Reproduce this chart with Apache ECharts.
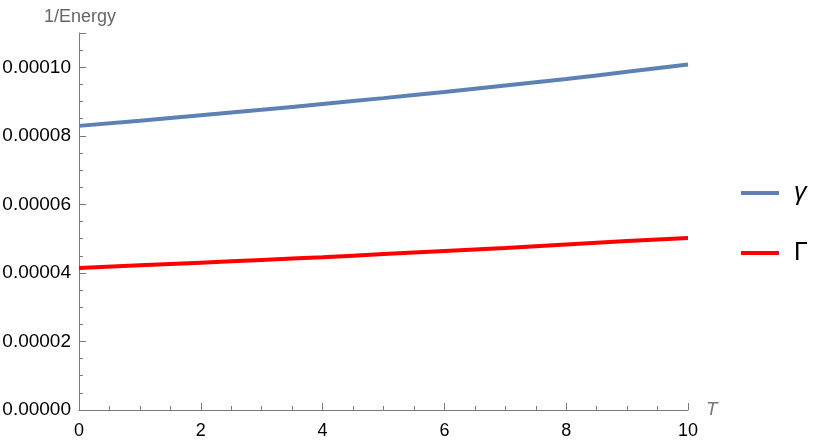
<!DOCTYPE html>
<html>
<head>
<meta charset="utf-8">
<script src="https://cdn.jsdelivr.net/npm/echarts@6/dist/echarts.min.js"></script>
<style>
html,body{margin:0;padding:0;background:#fff;}
#main{width:819px;height:442px;}
</style>
</head>
<body>
<div id="main"></div>
<script>
const T = [0, 1, 2, 3, 4, 5, 6, 7, 8, 9, 10];
const gammaSmall = [0.0000829, 0.0000844, 0.0000860, 0.0000876, 0.0000893, 0.0000910, 0.0000928, 0.0000947, 0.0000966, 0.0000987, 0.0001008];
const gammaCap = [0.0000414, 0.0000422, 0.0000430, 0.0000438, 0.0000446, 0.0000455, 0.0000464, 0.0000473, 0.0000483, 0.0000493, 0.0000502];
const seriesNames = ['γ', 'Γ'];
const yTicks = [0, 0.00002, 0.00004, 0.00006, 0.00008, 0.00010];

const chart = echarts.init(document.getElementById('main'), null, {renderer: 'canvas'});
const axisGray = '#7a7a7a';
const font = "'Liberation Sans', Arial, sans-serif";

chart.setOption({
  animation: false,
  title: {
    text: '1/Energy', left: 39, top: 3,
    textStyle: {color: '#666', fontFamily: font, fontSize: 18, fontWeight: 'normal'}
  },
  grid: {left: 79, right: 131, top: 33, bottom: 32, containLabel: false, outerBoundsMode: 'none'},
  legend: {
    orient: 'vertical',
    left: 736,
    top: 172,
    itemWidth: 38,
    itemHeight: 4,
    itemGap: 28,
    icon: 'rect',
    data: [
      {name: seriesNames[0], textStyle: {fontStyle: 'italic'}},
      {name: seriesNames[1], textStyle: {fontStyle: 'normal'}}
    ],
    textStyle: {
      color: '#000', fontFamily: font, fontSize: 25, lineHeight: 32, padding: [0, 0, 0, 10]
    }
  },
  xAxis: {
    type: 'value',
    min: 0, max: 10, interval: 2,
    name: 'T',
    nameLocation: 'end',
    nameGap: 18,
    nameTextStyle: {color: '#777', fontStyle: 'italic', fontFamily: font, fontSize: 19, padding: [4, 0, 0, 0]},
    axisLine: {show: true, lineStyle: {color: axisGray, width: 1}},
    axisTick: {show: true, inside: true, length: 7, lineStyle: {color: axisGray}},
    minorTick: {show: true, splitNumber: 4, length: 4, lineStyle: {color: axisGray}},
    axisLabel: {color: '#000', fontFamily: font, fontSize: 18, margin: 12, formatter: v => String(v)},
    splitLine: {show: false},
    minorSplitLine: {show: false}
  },
  yAxis: {
    type: 'value',
    min: 0, max: 0.00011, interval: 0.00002,
    axisLine: {show: true, lineStyle: {color: axisGray, width: 1}},
    axisTick: {show: true, inside: true, length: 7, lineStyle: {color: axisGray}},
    minorTick: {show: true, splitNumber: 4, length: 4, lineStyle: {color: axisGray}},
    axisLabel: {color: '#000', fontFamily: font, fontSize: 19, margin: 8,
      formatter: v => yTicks.some(t => Math.abs(t - v) < 1e-12) ? v.toFixed(5) : ''},
    splitLine: {show: false},
    minorSplitLine: {show: false}
  },
  series: [
    {
      name: seriesNames[0], type: 'line', smooth: true, showSymbol: false,
      data: T.map((t, i) => [t, gammaSmall[i]]),
      lineStyle: {color: '#5E81B5', width: 4}, itemStyle: {color: '#5E81B5'}
    },
    {
      name: seriesNames[1], type: 'line', smooth: true, showSymbol: false,
      data: T.map((t, i) => [t, gammaCap[i]]),
      lineStyle: {color: '#FF0000', width: 4}, itemStyle: {color: '#FF0000'}
    }
  ]
});
</script>
</body>
</html>
